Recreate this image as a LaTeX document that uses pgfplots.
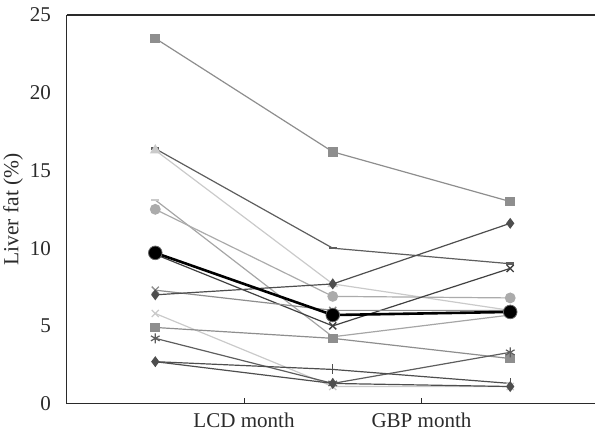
\documentclass[border=0pt]{standalone}
\usepackage{pgfplots}
\pgfplotsset{compat=1.18}
\usepackage{fontspec}
\setmainfont{Liberation Serif}
\definecolor{cA}{HTML}{8E8E8E}
\definecolor{cB}{HTML}{5E5E5E}
\definecolor{cC}{HTML}{CACACA}
\definecolor{cD}{HTML}{A6A6A6}
\definecolor{cE}{HTML}{ABABAB}
\definecolor{cF}{HTML}{404040}
\definecolor{cG}{HTML}{4E4E4E}
\definecolor{txt}{HTML}{2A2A2A}
\begin{document}
\begin{tikzpicture}
\begin{axis}[
  scale only axis,
  width=528pt, height=388pt,
  xmin=-0.5, xmax=2.48, ymin=0, ymax=25,
  axis lines=left,
  axis line style={-, line width=1.2pt, txt},
  xtick={0.5,1.5}, xticklabels={LCD month, GBP month},
  ytick={0,5,10,15,20,25},
  xtick style={draw=txt, line width=1pt},
  xtick align=inside, major tick length=6pt,
  ytick style={draw=none},
  ylabel={\fontsize{21.5}{23}\selectfont Liver fat (\%)},
  ylabel style={text=txt, yshift=0pt},
  ticklabel style={font=\fontsize{21}{23}\selectfont, text=txt},
  yticklabel style={xshift=-9pt},
  /pgf/number format/assume math mode=true,
  xticklabel style={yshift=-6pt},
  clip=false,
  every axis plot/.append style={line width=1.2pt},
]
\draw[line width=1.2pt, txt] (rel axis cs:0,1) -- (rel axis cs:1,1);
\path (rel axis cs:0,1) -- ++(0pt,15pt);
% 1 square
\addplot[cA, mark=square*, mark size=4.2pt, mark options={solid, fill=cA, draw=cA}]
  coordinates {(0,23.5) (1,16.2) (2,13.0)};
% 2 dash dark
\addplot[cB, mark=-, mark size=4pt, mark options={line width=2.5pt}]
  coordinates {(0,16.4) (1,10.0) (2,9.0)};
% 3 triangle light
\addplot[cC, mark=triangle*, mark size=5pt, mark options={fill=cC, draw=cC}]
  coordinates {(0,16.3) (1,7.7) (2,6.0)};
% 4 dash light
\addplot[cD, mark=-, mark size=4pt, mark options={line width=2.5pt, draw=cC}]
  coordinates {(0,13.1) (1,4.3) (2,5.7)};
% 5 circle
\addplot[cE, mark=*, mark size=4.8pt, mark options={fill=cE, draw=cE}]
  coordinates {(0,12.5) (1,6.9) (2,6.8)};
% 7 x dark
\addplot[cF, mark=x, mark size=5pt, mark options={line width=1.3pt}]
  coordinates {(0,9.6) (1,5.0) (2,8.7)};
% 8 x gray
\addplot[cA, mark=x, mark size=5pt, mark options={line width=1.3pt}]
  coordinates {(0,7.3) (1,6.0) (2,6.0)};
% 9 diamond dark
\addplot[cG, mark=diamond*, mark size=4.5pt, mark options={fill=cG, draw=cG}]
  coordinates {(0,7.0) (1,7.7) (2,11.6)};
% 10 x light
\addplot[cC, mark=x, mark size=5pt, mark options={line width=1.3pt}]
  coordinates {(0,5.8) (1,1.1) (2,1.1)};
% 11 square gray
\addplot[cA, mark=square*, mark size=4.2pt, mark options={fill=cA, draw=cA}]
  coordinates {(0,4.9) (1,4.2) (2,2.9)};
% 12 asterisk
\addplot[cB, mark=asterisk, mark size=5pt, mark options={line width=1.2pt}]
  coordinates {(0,4.2) (1,1.3) (2,3.3)};
% 13 bar
\addplot[cG, mark=|, mark size=5pt, mark options={line width=1.3pt}]
  coordinates {(0,2.7) (1,2.2) (2,1.3)};
% 14 diamond
\addplot[cG, mark=diamond*, mark size=4.5pt, mark options={fill=cG, draw=cG}]
  coordinates {(0,2.7) (1,1.3) (2,1.1)};
% mean
\addplot[black, line width=2.6pt, mark=*, mark size=6.8pt, mark options={fill=black, draw=black!60, line width=0.8pt}]
  coordinates {(0,9.7) (1,5.7) (2,5.9)};
\end{axis}
\end{tikzpicture}
\end{document}
